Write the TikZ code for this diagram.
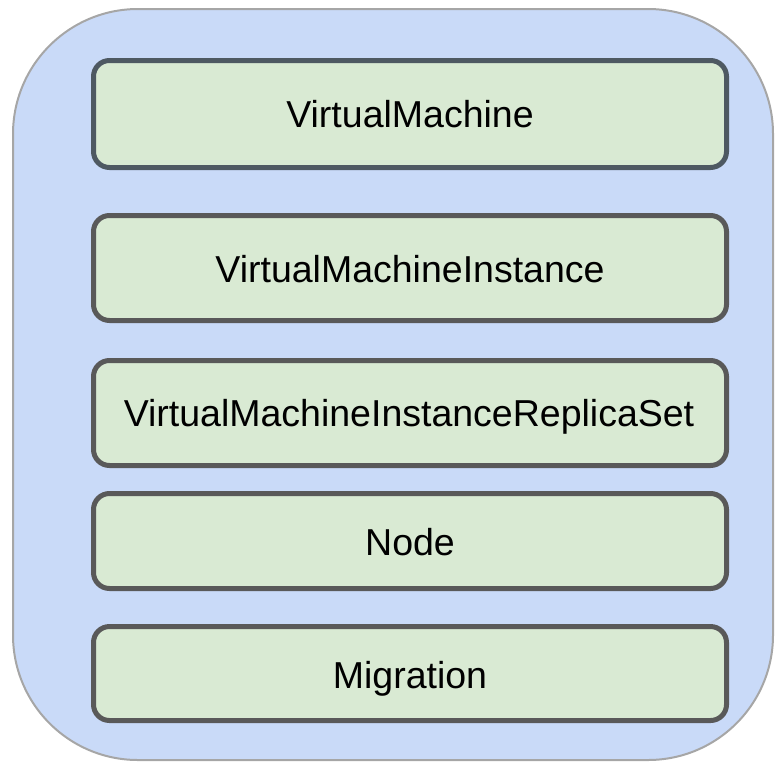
\documentclass[tikz,border=0pt]{standalone}
\usepackage{fontspec}
\setmainfont{Liberation Sans}
\definecolor{panelfill}{HTML}{C9DAF8}
\definecolor{panelline}{HTML}{A6A6A6}
\definecolor{boxfill}{HTML}{D9EAD3}
\definecolor{boxline}{HTML}{595959}
\definecolor{boxlineb}{HTML}{4E5962}
\begin{document}
\begin{tikzpicture}[x=1pt,y=-1pt,
  panel/.style={fill=panelfill,draw=panelline,line width=2pt,rounded corners=125pt},
  kind/.style={fill=boxfill,draw=boxline,line width=5pt,rounded corners=16pt},
  kindlabel/.style={font=\fontsize{37.5}{42}\selectfont,anchor=base,inner sep=0pt}]
\useasboundingbox (0,0) rectangle (775,763);
% outer container
\draw[panel] (13,9) rectangle (773,760);
% resource boxes
\draw[kind,draw=boxlineb] (93.5,60.5) rectangle (726.5,167.5);
\node[kindlabel] (vm) at (410,127) {VirtualMachine};
\draw[kind] (93.5,215.5) rectangle (726.5,320.5);
\node[kindlabel] (vmi) at (410,282) {VirtualMachineInstance};
\draw[kind] (93.5,360.5) rectangle (726.5,465.5);
\node[kindlabel] (vmirs) at (409,426) {VirtualMachineInstanceReplicaSet};
\draw[kind] (93.5,493.5) rectangle (726.5,588.5);
\node[kindlabel] (node) at (410,555) {Node};
\draw[kind] (93.5,626.5) rectangle (726.5,720.5);
\node[kindlabel] (mig) at (410,688) {Migration};
\end{tikzpicture}
\end{document}
